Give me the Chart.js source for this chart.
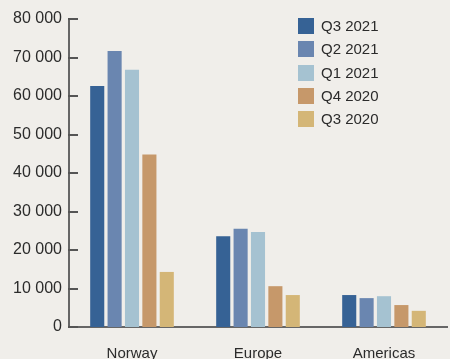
<!DOCTYPE html>
<html>
<head>
<meta charset="utf-8">
<script src="https://cdn.jsdelivr.net/npm/chart.js@4"></script>
<style>
  html, body { margin: 0; padding: 0; background: #f0eeea; }
  #wrap { width: 450px; height: 359px; }
</style>
</head>
<body>
<div id="wrap"><canvas id="chart" width="450" height="359"></canvas></div>
<script>
/* ===== DATA ===== */
const regions = ['Norway', 'Europe', 'Americas'];
const periods = ['Q3 2021', 'Q2 2021', 'Q1 2021', 'Q4 2020', 'Q3 2020'];
const q3_2021 = [62600, 23600, 8300];
const q2_2021 = [71700, 25500, 7500];
const q1_2021 = [66800, 24700, 8000];
const q4_2020 = [44800, 10600, 5700];
const q3_2020 = [14300, 8300, 4200];
const yTicks = [0, 10000, 20000, 30000, 40000, 50000, 60000, 70000, 80000];

const colors = ['#366295', '#6a86b0', '#a5c2d1', '#c6986a', '#d4b677'];
const series = [q3_2021, q2_2021, q1_2021, q4_2020, q3_2020];
const FONT = "'Liberation Sans', Arial, sans-serif";
const TXT = '#2b2b2b';

function fmt(v){
  return String(v).replace(/\B(?=(\d{3})+(?!\d))/g, ' ');
}

// inward tick marks + legend, drawn from the chart's own scales/data
const extras = {
  id: 'extras',
  afterDraw(chart){
    const ctx = chart.ctx, area = chart.chartArea, y = chart.scales.y;
    ctx.save();
    ctx.strokeStyle = '#555';
    ctx.lineWidth = 2;
    yTicks.forEach(t => {
      const py = Math.round(y.getPixelForValue(t));
      ctx.beginPath();
      ctx.moveTo(area.left - 1, py);
      ctx.lineTo(area.left + 9, py);
      ctx.stroke();
    });
    // legend
    ctx.font = '15px ' + FONT;
    ctx.textBaseline = 'middle';
    chart.data.datasets.forEach((ds, i) => {
      const cy = 26 + i * 23.3;
      ctx.fillStyle = ds.backgroundColor;
      ctx.fillRect(298, Math.round(cy - 8), 16, 16);
      ctx.fillStyle = TXT;
      ctx.fillText(ds.label, 321, cy + 1);
    });
    ctx.restore();
  }
};

new Chart(document.getElementById('chart'), {
  type: 'bar',
  data: {
    labels: regions,
    datasets: periods.map((p, i) => ({
      label: p,
      data: series[i],
      backgroundColor: colors[i],
      borderWidth: 0,
      categoryPercentage: 0.69,
      barPercentage: 0.81
    }))
  },
  options: {
    responsive: false,
    animation: false,
    layout: { padding: { top: 19, right: 3, left: 0, bottom: 0 } },
    plugins: { legend: { display: false }, tooltip: { enabled: false } },
    scales: {
      x: {
        grid: { display: false },
        border: { display: true, color: '#666', width: 2 },
        ticks: { color: TXT, font: { family: FONT, size: 15 }, padding: 10 },
        afterFit(s){ s.height = 32; }
      },
      y: {
        min: 0, max: 80000,
        afterBuildTicks(s){ s.ticks = yTicks.map(v => ({ value: v })); },
        grid: { display: false, drawTicks: false },
        border: { display: true, color: '#666', width: 2 },
        ticks: {
          color: TXT, font: { family: FONT, size: 16 }, padding: 7,
          callback: v => fmt(v)
        },
        afterFit(s){ s.width = 69; }
      }
    }
  },
  plugins: [extras]
});
</script>
</body>
</html>
